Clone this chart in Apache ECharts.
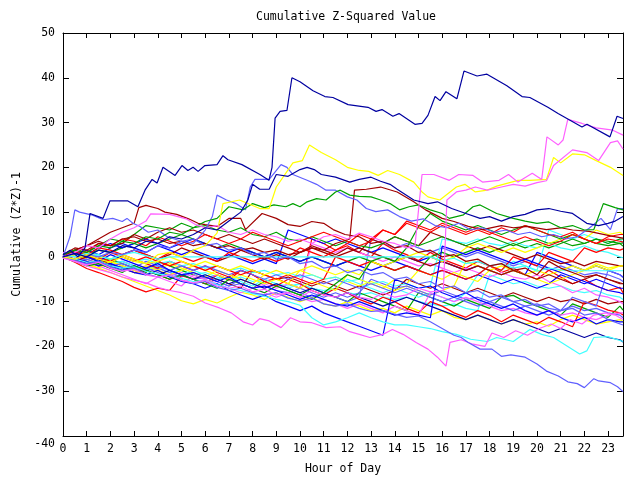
<!DOCTYPE html>
<html>
<head>
<meta charset="utf-8">
<script src="https://cdn.jsdelivr.net/npm/echarts@6.0.0/dist/echarts.min.js"></script>
<style>
html,body{margin:0;padding:0;background:#fff;}
#chart{width:640px;height:480px;}
</style>
</head>
<body>
<div id="chart"></div>
<script>
// ---------- Text ----------
const TITLE = 'Cumulative Z-Squared Value';
const X_NAME = 'Hour of Day';
const Y_NAME = 'Cumulative (Z*Z)-1';

// ---------- Axes ----------
const X_MIN = 0, X_MAX = 23.63, X_STEP = 1;
const Y_MIN = -40, Y_MAX = 50, Y_STEP = 10;

// shared half-hour grid used by the grid series
const HOURS = [0,0.5,1,1.5,2,2.5,3,3.5,4,4.5,5,5.5,6,6.5,7,7.5,8,8.5,9,9.5,10,10.5,11,11.5,
  12,12.5,13,13.5,14,14.5,15,15.5,16,16.5,17,17.5,18,18.5,19,19.5,20,20.5,21,21.5,22,22.5,23,23.5,23.63];

// ---------- Traced series: [hour, value] ----------
const navyTop = [[0,0.5],[0.3,1.5],[0.63,0],[0.93,2],[1.14,9.7],[1.22,10],[1.69,8.6],[1.98,12.5],[2.74,12.5],[3.16,11.2],[3.46,14.9],[3.76,17.3],[3.97,16.5],[4.22,20],[4.73,18.2],[5.02,20.4],[5.27,19.3],[5.49,20],[5.7,19.1],[5.99,20.4],[6.5,20.6],[6.75,22.6],[6.96,21.7],[7.55,20.6],[8.31,18.4],[8.69,17.1],[8.82,20],[8.95,31],[9.16,32.5],[9.45,32.7],[9.66,40],[10,39.1],[10.55,37.1],[11.05,35.8],[11.39,35.6],[12.03,34],[12.11,33.8],[12.87,33.4],[13.21,32.5],[13.46,32.9],[13.92,31.4],[14.18,32],[14.85,29.6],[15.15,29.8],[15.4,31.6],[15.7,35.8],[15.91,34.9],[16.16,36.9],[16.62,35.3],[16.92,41.5],[17.47,40.4],[17.89,40.8],[18.73,38.2],[19.37,35.8],[19.7,35.6],[20.46,33.4],[20.89,32],[21.9,29],[22.11,29.6],[23.08,26.8],[23.38,31.4],[23.63,30.9]];
const navySecond = [[0,0],[0.5,0.8],[1,0],[1.5,1.5],[2,1],[2.5,2.5],[3,2],[3.5,3.5],[4,3],[4.5,4.5],[5,4],[5.5,5],[6,6.5],[6.5,6],[7,8],[7.5,10],[7.8,12.7],[8,16.2],[8.3,15.1],[8.7,15.1],[9,18.4],[9.5,18],[10,19.5],[10.3,20],[10.6,19.5],[10.9,18.4],[11.5,17.8],[12.1,16.7],[12.5,17.3],[13,17.8],[13.4,16.9],[13.8,16.2],[14.1,15.1],[14.8,12.7],[15.4,11.9],[15.8,12.3],[16.4,10.8],[17,9.7],[17.6,8.6],[18,9],[18.5,8],[19,9],[19.5,9.5],[20,10.5],[20.5,10.8],[21,10.2],[21.5,9.7],[22.1,7.5],[22.6,7],[23,7.5],[23.3,8],[23.63,9]];
const magentaHigh = [[0,0],[0.5,1],[1,2.5],[1.5,2],[2,4],[2.5,5.5],[3,6.5],[3.5,8],[3.7,9.6],[4.5,9.5],[5.2,8.5],[5.6,7.2],[6,6.5],[6.5,7],[7,5.5],[7.5,5],[8,6],[8.5,5],[9,4.5],[9.5,3.5],[10,4],[10.5,3],[11,4.5],[11.5,5],[12,4],[12.5,5.3],[13,4.5],[13.5,3.5],[14,3],[14.5,2],[14.85,2.4],[15.15,18.4],[15.65,18.4],[16.3,17.1],[16.7,18.4],[17.3,18.2],[17.7,16.7],[18.4,17.1],[18.8,18.4],[19.2,16.7],[19.8,18.7],[20.2,17.3],[20.42,26.8],[20.9,25],[21.1,26.1],[21.3,30.7],[21.9,29.8],[22.5,28.8],[23.2,28.3],[23.63,27.2]];
const magentaJump = [[0,-0.3],[0.5,-1],[1,-1.8],[1.5,-1.2],[2,-2.5],[2.5,-3.2],[3,-2.8],[3.5,-4],[4,-4.5],[4.5,-4],[5,-5.2],[5.5,-5.8],[6,-5.2],[6.5,-6.5],[7,-7],[7.5,-6.5],[8,-7.8],[8.5,-7.2],[9,-8.5],[9.5,-8],[10,-9],[10.5,-7.5],[11,-8.5],[11.5,-9],[12,-8],[12.5,-9],[13,-9.5],[13.5,-8],[14,-9],[14.5,-8.5],[15,-7],[15.5,-7.8],[16.05,-7.5],[16.2,12.7],[16.6,14.5],[17,14.9],[17.4,15.6],[17.9,14.9],[18.5,15.6],[19,16.2],[19.5,15.8],[20,16.6],[20.4,17],[20.7,20.4],[21.5,23.9],[22.1,23.3],[22.6,21.5],[23.1,25.5],[23.4,25.9],[23.63,24.1]];
const yellowHigh = [[0,0],[0.5,-0.5],[1,0.5],[1.5,-0.5],[2,-1.2],[2.5,0],[3,-1],[3.5,-1.5],[4,0.5],[4.5,1],[5,0],[5.5,1.5],[6,2.5],[6.5,5.3],[6.75,11.9],[7.45,12.7],[8.3,10.8],[8.7,10.8],[9,15.6],[9.7,21],[10.1,21.5],[10.4,25],[10.9,23.3],[11.5,21.7],[12,20],[12.5,19.3],[12.9,19.1],[13.3,18.2],[13.7,19.3],[14.2,18.4],[14.8,16.7],[15.15,14.5],[15.4,13.4],[15.9,12.7],[16.6,15.6],[16.96,16.2],[17.4,14.5],[17.9,14.9],[18.3,15.8],[19.2,17.1],[19.7,17.1],[20.4,17.3],[20.7,22.2],[21,21],[21.5,23],[22,22.8],[22.5,21.5],[23.1,20],[23.63,18.2]];
const slateLow = [[0,0],[0.5,-0.8],[1,-1.5],[1.5,-1],[2,-2.2],[2.5,-3],[3,-2.5],[3.5,-3.8],[4,-4.5],[4.5,-4],[5,-5.2],[5.5,-6],[6,-5.5],[6.5,-6.8],[7,-7.5],[7.5,-7],[8,-8],[8.5,-8.5],[9,-8],[9.5,-9.2],[10,-9.8],[10.5,-9.2],[11,-10.5],[11.5,-11],[12,-10.5],[12.5,-11.5],[13,-12.2],[13.5,-12],[14,-12.8],[14.5,-13.5],[15,-13.2],[15.5,-14.5],[16,-16],[16.5,-17.5],[16.8,-18],[17.1,-19.1],[17.6,-20.6],[18.1,-20.6],[18.5,-22.2],[18.9,-21.9],[19.5,-22.4],[20,-23.9],[20.4,-25.5],[20.9,-26.6],[21.3,-27.9],[21.7,-28.3],[22,-29.2],[22.4,-27.2],[22.6,-27.7],[23.1,-28.1],[23.4,-29],[23.63,-30.1]];
const magentaLow = [[0,0],[0.5,-1],[1,-2],[1.5,-2.8],[2,-3.5],[2.5,-4.5],[3,-5.2],[3.5,-5.8],[4,-6.8],[4.5,-7.5],[5,-8],[5.5,-8.8],[6,-10.3],[6.6,-11.4],[7.1,-12.5],[7.6,-14.5],[8,-15.2],[8.3,-13.8],[8.7,-14.3],[9.2,-15.8],[9.6,-13.6],[10,-14.5],[10.5,-14.7],[11.1,-15.8],[11.7,-15.6],[12.1,-16.7],[12.5,-17.3],[12.95,-18],[13.5,-17.3],[13.9,-16.2],[14.35,-17.3],[14.9,-19.1],[15.4,-20.6],[15.8,-22.4],[16.16,-24.4],[16.33,-19.1],[16.8,-18.5],[17.3,-19.5],[17.8,-20],[18.1,-17],[18.6,-18],[19.1,-16.5],[19.6,-17.5],[20.1,-16],[20.6,-15],[21,-16],[21.4,-14],[21.9,-15],[22.4,-13],[22.9,-12.5],[23.3,-13],[23.63,-14]];
const cyanLow = [[0,0],[0.5,-0.5],[1,-1.2],[1.5,-1],[2,-2],[2.5,-2.5],[3,-2.2],[3.5,-3.2],[4,-3.8],[4.5,-4.2],[5,-4.8],[5.5,-5.5],[6,-5.2],[6.5,-6.2],[7,-7],[7.5,-7.5],[8,-8.2],[8.5,-8.8],[9,-9.5],[9.5,-10],[10,-10.8],[10.5,-13.6],[11,-15.2],[11.5,-14.5],[12,-13.6],[12.5,-12.5],[13,-13.6],[13.5,-14.5],[14,-15.2],[14.5,-15.2],[15,-15.6],[15.5,-16],[16,-16.7],[16.6,-17.3],[17.2,-18.4],[17.9,-18.9],[18.3,-18],[19,-18.9],[19.7,-16.2],[20.2,-17.3],[20.7,-18],[21.3,-20],[21.8,-21.7],[22.1,-21],[22.4,-18],[23,-17.8],[23.63,-18.9]];
const cyanFlat = [[0,0.5],[0.5,0],[1,0.8],[1.5,0.2],[2,-0.5],[2.5,0.5],[3,1],[3.5,0.3],[4,-0.5],[4.5,0],[15.5,0],[16,-0.8],[16.5,-0.3],[17,-1.5],[17.5,-1],[18,-2],[18.5,-1.5],[19,-2.5],[19.5,-2],[20,-3.2],[20.5,-2.5],[21.3,-3.1],[23.63,-3.1]];
const greenHigh = [[0,0.5],[0.5,1.5],[1,1],[1.5,2.5],[2,2],[2.5,3.5],[3,3],[3.5,4.5],[4,4],[4.5,5.5],[5,5],[5.5,6.5],[6,7.9],[6.5,8.6],[7,11.2],[7.6,10.5],[8,11.9],[8.5,11],[8.9,11.6],[9.4,11.2],[9.7,11.9],[10,11.2],[10.3,12.3],[10.7,13],[11.1,12.7],[11.5,14.5],[11.7,14.9],[12.1,13.8],[12.5,13.5],[13,13.4],[13.4,12.7],[13.8,11.9],[14.2,10.5],[14.6,11.2],[15,11.6],[15.5,10.5],[16,9.7],[16.3,8.6],[16.9,9.4],[17.3,11.2],[17.6,11.6],[18.3,9.7],[19,8.6],[19.5,8],[20,7.5],[20.5,7.8],[21,6.5],[21.5,7],[22,6],[22.4,6.1],[22.8,11.9],[23.3,11],[23.63,10.5]];
const slateEarly = [[0,0],[0.3,4.6],[0.5,10.5],[0.7,10],[1.2,9.4],[1.4,9],[1.7,8.3],[2.1,8.6],[2.5,7.9],[2.7,8.6],[2.95,7.5],[3.25,6.8],[3.6,5.5],[4,6],[4.4,4.5],[5,3.5],[5.5,4],[6,2.5],[6.5,3],[7,1.5],[7.5,2],[8,0.5],[8.5,1],[9,-0.5],[9.5,0],[10,-1.5],[10.5,-1],[11,-2.5],[11.5,-2],[12,-3.5],[12.5,-2.8],[13,-4],[13.5,-3.5],[14,-5],[14.5,-4.5],[15,-6],[15.5,-5.5],[16,-7],[16.5,-6.5],[17,-8],[17.5,-7.5],[18,-9],[18.5,-8.5],[19,-10],[19.5,-9.5],[20,-11],[20.5,-10.5],[21,-12],[21.5,-11.5],[22,-13],[22.5,-12.5],[23,-14],[23.63,-15.2]];
const slatePeak = [[0,0],[0.5,-0.5],[1,0.5],[1.5,0],[2,1],[2.5,0.5],[3,1.5],[3.5,1],[4,2.5],[4.5,2],[5,3.5],[5.5,3],[6,6],[6.3,9],[6.5,13.8],[6.9,12.7],[7.3,11.9],[7.7,10.5],[7.9,15.6],[8.1,17.3],[8.7,17.3],[9.2,20.6],[9.45,20],[9.7,18.4],[10.3,17.1],[10.7,16.2],[11.1,14.9],[11.5,14.9],[12,13.4],[12.4,12.7],[12.8,10.8],[13.2,10.1],[13.7,10.5],[14.2,9],[14.7,8],[15.2,8.5],[15.7,7],[16.2,6.5],[16.7,7.5],[17.2,6],[17.7,6.5],[18.2,5.5],[18.7,6],[19.2,5],[19.7,5.5],[20.2,4.5],[20.7,5],[21.2,4],[21.7,4.5],[22.2,6.4],[22.7,8.6],[23.1,6.1],[23.4,10.8],[23.63,10.8]];
const dredJump = [[0,0.5],[0.5,2],[1,1.5],[1.5,3],[2,2.5],[2.5,4],[3,4.5],[3.5,3.5],[4,4],[4.5,3],[5,3.5],[5.5,2.5],[6,3],[6.5,2],[7,2.5],[7.5,1.5],[8,2],[8.5,1],[9,1.5],[9.5,0.5],[10,1],[10.5,2],[11,1.5],[11.5,3],[12.1,4],[12.3,14.9],[12.8,15.1],[13.4,15.6],[14.1,14.5],[14.8,12.3],[15.3,10.5],[16,8.6],[16.5,7.9],[17.1,6.8],[17.7,6.1],[18.5,7],[19,6.5],[19.6,6.8],[20.4,6.1],[21,6.5],[21.5,6],[22.2,5.7],[23.2,4.6],[23.63,4.2]];
const dredMid = [[0,0],[0.5,1.5],[1,2.5],[1.5,4],[2,5.5],[2.5,6.5],[3,7.5],[3.2,11],[3.5,11.5],[4,10.8],[4.3,10],[4.8,9.5],[5.3,8.5],[5.7,7.5],[6,7.2],[6.5,6.8],[7,8.6],[7.5,8.6],[7.7,6.1],[8.4,9.7],[9,8.6],[9.5,7.2],[10,6.8],[10.5,7.9],[11,7.5],[11.4,6.1],[11.9,5],[12.5,4.5],[13,3],[13.5,3.5],[14,2],[14.5,2.5],[15,1],[15.5,1.5],[16,0],[16.5,0.5],[17,-1],[17.5,-0.5],[18,-2],[18.5,-1.5],[19,-3],[19.5,-2.5],[20,-4],[20.5,-1],[21,-2.5],[21.5,-3.5],[22,-4.5],[22.5,-4],[23,-5],[23.63,-6]];

// ---------- Half-hour grid series (values at HOURS) ----------
const redA = [0,-1.2,-2.6,-3.5,-4.5,-5.5, -6.8,-7.8,-7,-7.5,-4.2,-5, -6,-4,-5.2,-3,-4,-5.5, -4.8,-6,-7,4,3,1.5,
  2.5,1,0,3,1.5,0.5, -0.8,1,-0.5,-1.5,-2.5,-1, -2,-3.5,-2.5,-4,-5,-3, -4.5,-6,-5,-6.5,-7.5,-6.8, -8];
const redB = [0.5,-0.5,1,0,-1,0.5, -0.5,-1.5,-2.5,-1,-2,-3, -2,-3.5,-4.5,-3,-4,-5.5, -6.5,-5,-6,-7.5,-8.5,-7,
  -8,-9.5,-10.5,-9,-10,-11.5, -12.5,-10,-11,-12.5,-13.5,-12, -13,-14.5,-13,-14,-15,-13.5, -14.5,-15.6,-10,-10.8,-11.9,-12.5, -13];
const redC = [0,1.5,1,3,2.5,4, 3.5,2.5,4.5,3.5,2.5,3.5, 5,4,3,4,5.5,4.5, 3.5,2.5,3.5,4.5,5.5,4.5,
  3.5,2.5,3.5,6,5,7.5, 6.5,5.5,7,6,5,6, 5,6.5,5.5,7,6,5, 4.5,5.5,4,3,4,3.5, 3.3];
const redD = [0,1,0.5,2,1.5,0.5, 1.5,0.5,-0.5,1,0,-1, 0,-1,1,0,-1,0, -1,0,2,1,0,1.5,
  3,5,4,6,5,8, 7,6,7.5,6.5,5.5,6.5, 5.5,4.5,3.5,4.5,3.5,2.5, 3.5,5,4,3,4.5,5, 5];
const redE = [0,-0.5,0.5,-0.5,1,0, -1,0,-1,-2,-1,-2, -3,-2,-3,-4,-3,-4, -5,-4,-5,-6,-5,0,
  -1,-2,-1,-2,-3,-2, -3,-4,-3,-4,-5,-4, -2,-3,0,-1,-2,1, 0,-1,2,1,2,1.5, 1.8];
const blueA = [0,-0.5,-1,-2,-1.5,-2.5, -3.5,-4,-3,-4.5,-5.5,-6, -7,-6,-7.5,-8.5,-9.5,-8.5, -10,-11,-12,-11,-12.5,-13.5,
  -14.5,-15.5,-16.5,-17.5,-5,-6, -7,-6.5,-8,-9,-8,-9.5, -10.5,-11.5,-10.5,-12,-13,-12, -13.5,-14.5,-13.5,-15,-14,-14.5, -14.5];
const blueB = [0,0.8,0,-1,0.5,-0.5, -1.5,-2.5,-1.5,-3,-4,-3.5, -4.5,-5.5,-4.5,-6,-7,-6.5, -7.5,-8.5,-9.5,-8.5,-9.5,-10.5,
  -11,-10,-11,-12,-13,-12.5, -13,-13.6,2.4,1.5,0.5,1.5, 0.5,-0.5,-1.5,-0.5,-1.5,-2.5, -3.5,-4.5,-5.5,-6.5,-7.5,-8, -8.3];
const blueC = [0,0.5,1.5,0.5,2,3, 2,1,2.5,1.5,0.5,1.5, 0.5,-0.5,0.5,-0.5,-1.5,-0.5, -1.5,6,5,4,3,4,
  3,2,1,2,1,0, -1,0,-1,-2,-3,-2, -3,-4,-3,-4,1,0, -1,-2,-3,-2,-3,-4, -4.5];
const blueD = [0,1,0.5,2,3,2, 3,4,3,2,3,4, 3,2,1,2,1,0, 1,0,-1,0,-1,-2,
  -1,-2,-3,-2,-1,-2, -3,-4,-3,-4,-5,-4, -5,-6,-5,-6,-7,-6, -4,-5,-6,-5,-6,-7, -7];
const navyC = [0,-0.5,-1.5,-1,-2,-3, -2,-3,-4,-3,-4,-5, -4,-5,-6,-5,-6,-7, -6,-7,-8,-7,-8,-9,
  -8,-9,-10,-11,-10,-9, -10,-11,-12,-13,-14,-13, -14,-15,-14,-15,-16,-17, -16,-17,-18,-17,-18,-18.5, -19];
const slateA = [0,-0.5,0.5,-0.5,-1.5,-1, -2,-3,-2.5,-3.5,-4.5,-3.5, -4.5,-5.5,-6.5,-5,-6,-7, -6,-7,-8,-9,-8,-9,
  -10,-9,4,3,2,3, 2,1,2,1,0,1, 0,-1,-2,-1,-2,-3, -2,-3,-4,-3.5,-4,-5, -5.5];
const slateB = [0,-1,-0.5,-1.5,-2.5,-2, -3,-2.5,-3.5,-4.5,-4,-5, -4.5,-5.5,-6.5,-6,-7,-6.5, -7.5,-8,-7,-8,-9,-8,
  -9,-8,-5,-6,-7,-6.5, -7.5,-8.5,-7.5,-8.5,-9.5,-9, -10,-9,-10,-11,-10.5,-11.5, -12,-11,-12,-11.5,-12.5,-13, -13.6];
const slateC = [0,-1,-1.5,-1,-2,-1.5, -2.5,-1,-2,-3,-2,-3, -2,-3,-4,-3,-4,-5, -4,-5,-4,-5,-6,-5,
  -6,-7,-6,-7,-8,-7, -8,-9,-10,-9,-10,-11, -10,-11,-12,-11,-12,-13, -12,-9,-10,-11,-3,-4, -4.6];
const greenA = [0.5,1,0,-1,-0.5,-1.5, -2.5,-3.5,-1,-2,-3,-4, -5,-4,-5,-6,-7,-5.5, -6.5,-7.5,-8.5,-7,-8,-9,
  -10,-8,-9,-10,-11,-12, -8,-9,-10,-11,-9.5,-10.5, -11.5,-9,-8.6,-10,-11,-12, -13,-10.5,-11.5,-12.5,-13.5,-11, -11.9];
const greenB = [0,1.5,1,2.5,4,3.5, 5,7,6.5,6,7.5,6.5, 7,6,5.5,6.5,5,4.5, 5.5,4,3.5,4.5,3.5,2.5,
  3.5,2.5,2,3,4.5,3.5, 2.5,3.5,4.5,3.5,2.5,3.5, 4.5,3.5,2.5,3.5,4,3, 3.5,2.5,3,4,3.5,3, 3.1];
const greenC = [0,-1,-2,-1.5,-2.5,-3.5, -2,-3,-4,-5,-4,-5, -6,-7,-5,-6,-7,-8, -6.5,-7.5,-8.5,-9.5,-8,-6,
  -4,-5,-1,0,-1,2, 6.8,9.7,8,7,6,7, 6,5,6,7,6,5, 4,5,4,3,2.5,3, 2.4];
const greenD = [0,-0.5,0.5,1.5,1,2, 3,2,3,4,5,4, 3,2,3,2,1,0, 1,0,-1,0,-1,-2,
  -1,0,-1,-2,-3,-2, -3,0,1,0,1,2, 1,2,3,2,3,2, 3,4,3,4,3,4, 4];
const yellowA = [0,-0.8,-1.8,-2.5,-3.5,-4.5, -5.5,-6.5,-7.5,-8.5,-9.8,-10.5, -9.5,-10.3,-9,-7.9,-8.5,-9.5, -8,-9,-10,-9,-10.5,-11,
  -10,-11,-12,-11.5,-12.5,-11, -12,-13,-12,-13.5,-14,-13, -14,-15,-14,-15,-14.5,-15.5, -14,-13,-14,-15,-14.5,-14, -14.5];
const yellowB = [0,0.5,-0.5,-1.5,-1,-2, -3,-2,-3,-4,-3,-2, -3,-4,-5,-4,-5,-6, -5,-6,-3,-4,-5,-4.5,
  -5.5,-6.5,-5.5,-6.5,-7.5,-6.5, -7.5,-8.5,-7.5,-6.5,-1,-2, -3,-2,-3,-4,-3,-4, -3,-2,-3,-1.5,-2.5,-2, -2];
const yellowC = [0,-0.5,-1.5,-2.5,-1,-2, -3,-4,-3,-1.5,-2.5,-3.5, -4.5,-3,-4,-5,-6,-4, -5,-6,-7,-5.5,-6.5,-7.5,
  -4,-5,-6,-7,-5,-6, -3,-4,-5,-3.5,-4.5,-5.5, -3,-4,-3,-4,-5,-6, -5,-4,-3,-2,-3,-2, -2];
const yellowD = [0,0.5,1,0,-0.5,0.5, -0.5,-1.5,-1,0,-1,-2, -1,-2,-3,-2,-3,-4, -3,-4,-3,-2,-3,-4,
  -3,-4,-1,-2,-1,0, 1,0,-1,0,2,3, 2,1,2,1,2,3, 4,5,4,6,5,5.5, 5];
const cyanA = [0,-0.5,-1.5,-1,-2,-2.5, -2,-3,-2.5,-3.5,-3,-4, -3.5,-4.5,-5,-4.5,-5.5,-5, -6,-6.5,-6,-7,-7.5,-7,
  -8,-8.5,-8,-9,-9.5,-9, -10,-10.5,-11,-10.5,-11.5,-12, -4,-5,-6,-5.5,-6.5,-7, -6.5,-7.5,-8,-7.5,-8.5,-9, -9.5];
const cyanB = [0.5,0,1,0.5,-0.5,0, -1,-0.5,-1.5,-1,-2,-1.5, -2.5,-2,-3,-2.5,-3.5,-3, -4,-3.5,-4.5,-4,-5,-4.5,
  -5.5,-5,-6,-5.5,-6.5,-6, -7,-6.5,4,3.5,3,4, 3,2.5,3.5,2.5,2,3, 2,1.5,2.5,1.5,1,0, -0.2];
const cyanC = [0,-0.5,0.5,-0.5,-1.5,-1, -2,-3,-2,-3,-4,-3, -4,-5,-4.5,-5.5,-6.5,-5, -6,-7,-6,-7,-8,-7,
  -5,-6,-7,-8,-7,-8, -9,-8,-9,-10,-8,-4, -2,-3,-1,-2,-3,6, 5,4,5,4,3,4, 3];
const magentaA = [0,-0.5,-1.5,-2,-3,-4, -5,-6,-4.5,-5.5,-6.5,-4, -5,-6,-7,-8,-7,-8, -9,-8,-9,-10,-9.5,-10.5,
  -11.5,-10.5,-11.5,-12.5,-11,-12, -13,-8,-9,-10,-9,-10, -11,-12,-11.5,-12.5,-13,-12, -13,-12.5,-13.5,-14,-13,-12.5, -12.5];
const magentaB = [1,0,-0.5,-1.5,-1,-2, -3,-2,-3,-4,-3.5,-4.5, -5,-4,-5,-6,-7,-6, -7,-6,-7,3,2,1,
  2,1,0,-1,0,-1, -2,-1.5,-2.5,-3.5,-2.5,-3.5, -4.5,-3.5,-4.5,-5,-4,-5.5, -6.5,-8,-7,-8.5,-9,-10, -10.5];
const dredA = [0,-1,0,-0.5,-1.5,0.5, 1.5,0.5,-0.5,0.5,2,1, 0,-1,0,1.5,0.5,-0.5, 0.5,-0.5,1,2.5,1.5,0.5,
  2,1,4,3,4.5,3.5, 2.5,5.5,4.5,3.5,2.5,1.5, 2.5,1.5,0.5,-0.5,0.5,-0.5, -1.5,-1,-2,-1,-1.5,-2, -2];
const dredB = [0,-0.5,-1,-2,-1.5,-2.5, -3.5,-3,-4,-5,-4,-5, -6,-5,-6,-7,-3,-4, -5,-4.5,-5.5,-6.5,-5.5,-6.5,
  -7.5,-6.5,-7.5,-8.5,-7.5,-5, -6,-7,-6,-7,-8,-7, -8,-9,-8,-9,-10,-9, -10,-9.5,-10.5,-9.5,-10.5,-10, -10];
const dredC = [0.5,1.5,2.5,3.5,2.5,3, 5,4,5.5,6.5,5.5,6, 5,4,5,4,3,4, 3,2,1,2,1,0,
  1,2,1,0,-1,0, -1,-2,-1,-2,-3,-2, -3,-4,-3,-4,-5,-4, -5,-6,-5,-4,-5,-6, -6];

// ---------- Colours ----------
const COLORS = {
  navy:'#0000a0', blue:'#0000ff', slate:'#6060ff', red:'#ff0000', dred:'#a00000',
  green:'#00a000', yellow:'#ffff00', cyan:'#40ffff', magenta:'#ff60ff'
};

function grid(vals){ return vals.map((v,i)=>[HOURS[i], v]); }

// drawing order: [data, colour key]
const LINES = [
  [cyanA,'cyan'],[yellowA,'yellow'],[greenA,'green'],[slateA,'slate'],[dredB,'dred'],[redA,'red'],
  [magentaB,'magenta'],[blueC,'blue'],[cyanC,'cyan'],[yellowB,'yellow'],[greenD,'green'],[slateB,'slate'],
  [dredA,'dred'],[redB,'red'],[magentaA,'magenta'],[blueD,'blue'],[cyanB,'cyan'],[yellowC,'yellow'],
  [greenB,'green'],[slateC,'slate'],[dredC,'dred'],[redE,'red'],[blueA,'blue'],[navyC,'navy'],
  [yellowD,'yellow'],[greenC,'green'],[redC,'red'],[redD,'red'],[blueB,'blue'],
  [cyanLow,'cyan'],[cyanFlat,'cyan'],[magentaLow,'magenta'],[slateLow,'slate'],[dredMid,'dred'],
  [dredJump,'dred'],[slateEarly,'slate'],[slatePeak,'slate'],[greenHigh,'green'],[yellowHigh,'yellow'],
  [magentaJump,'magenta'],[magentaHigh,'magenta'],[navySecond,'navy'],[navyTop,'navy']
];

const FONT = 'DejaVu Sans Mono';
const txt = {fontFamily: FONT, fontSize: 11.5, color: '#000'};
const lineBlack = {show: true, onZero: false, lineStyle: {color: '#000', width: 1}};
const tickIn = (len) => ({show: true, inside: true, length: len, lineStyle: {color: '#000', width: 1}});

const chart = echarts.init(document.getElementById('chart'), null, {renderer: 'canvas'});
chart.setOption({
  animation: false,
  backgroundColor: '#fff',
  title: {
    text: TITLE, left: 341, top: 6, textAlign: 'center',
    textStyle: {fontFamily: FONT, fontSize: 11.5, fontWeight: 'normal', color: '#000'}
  },
  grid: {left: 63, right: 17, top: 33, bottom: 37, containLabel: false},
  xAxis: [
    {
      type: 'value', position: 'bottom', min: X_MIN, max: X_MAX, interval: X_STEP,
      axisLine: lineBlack, axisTick: tickIn(5),
      axisLabel: Object.assign({margin: 7, showMaxLabel: false, showMinLabel: true}, txt),
      splitLine: {show: false},
      name: X_NAME, nameLocation: 'middle', nameGap: 27,
      nameTextStyle: txt
    },
    {
      type: 'value', position: 'top', min: X_MIN, max: X_MAX, interval: X_STEP,
      axisLine: lineBlack, axisTick: tickIn(5),
      axisLabel: {show: false}, splitLine: {show: false}
    }
  ],
  yAxis: [
    {
      type: 'value', position: 'left', min: Y_MIN, max: Y_MAX, interval: Y_STEP,
      axisLine: lineBlack, axisTick: tickIn(6),
      axisLabel: Object.assign({
        margin: 8,
        formatter: (v) => (v === Y_MIN ? '{low|' + v + '}' : String(v)),
        rich: {low: {fontFamily: FONT, fontSize: 11.5, color: '#000', padding: [17, 0, 0, 0]}}
      }, txt),
      splitLine: {show: false},
      name: Y_NAME, nameLocation: 'middle', nameGap: 31, nameRotate: 90,
      nameTextStyle: txt
    },
    {
      type: 'value', position: 'right', min: Y_MIN, max: Y_MAX, interval: Y_STEP,
      axisLine: lineBlack, axisTick: tickIn(6),
      axisLabel: {show: false}, splitLine: {show: false}
    }
  ],
  series: LINES.map(([d, c]) => ({
    type: 'line',
    xAxisIndex: 0, yAxisIndex: 0,
    data: (typeof d[0] === 'number') ? grid(d) : d,
    symbol: 'none', showSymbol: false,
    lineStyle: {color: COLORS[c], width: 1.2},
    itemStyle: {color: COLORS[c]},
    silent: true, clip: true
  }))
});
</script>
</body>
</html>
